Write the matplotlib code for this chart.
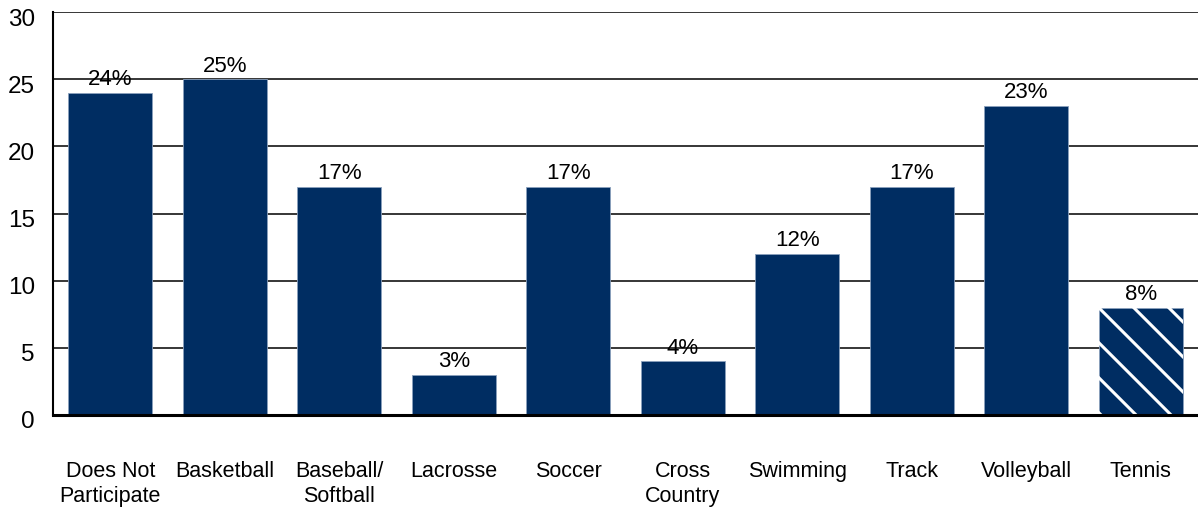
import numpy as np
import matplotlib.pyplot as plt
import matplotlib.transforms as mtransforms
from matplotlib.lines import Line2D

plt.rcParams['font.family'] = ['Liberation Sans', 'DejaVu Sans']

# data
sports = ['Does Not\nParticipate', 'Basketball', 'Baseball/\nSoftball', 'Lacrosse', 'Soccer',
          'Cross\nCountry', 'Swimming', 'Track', 'Volleyball', 'Tennis']
percents = [24, 25, 17, 3, 17, 4, 12, 17, 23, 8]
hatched = ['Tennis']

navy = '#002d62'

fig = plt.figure(figsize=(11.98, 5.07), dpi=100)
ax = fig.add_axes([0.0442, 0.1815, 0.9558, 0.7945])

x = np.arange(len(sports))
bars = ax.bar(x, percents, width=0.735, color=navy, edgecolor='#8aa0bd', linewidth=0.6, zorder=3)

# value labels
for xi, v in zip(x, percents):
    ax.text(xi, v + 0.2, '{0}%'.format(v), ha='center', va='bottom', fontsize=16, zorder=4)

ax.set_xlim(-0.5, len(sports) - 0.5)
ax.set_ylim(0, 30)
ax.set_yticks(range(0, 31, 5))
ax.set_xticks(x)
ax.set_xticklabels(sports, fontsize=15.5, linespacing=1.25, va='top')
ax.tick_params(axis='x', length=0, pad=33)
ax.tick_params(axis='y', length=0, pad=13, labelsize=17.5)

# shift y labels slightly down like the original
offset = mtransforms.ScaledTranslation(0, -5 / 100, fig.dpi_scale_trans)
for lab in ax.get_yticklabels():
    lab.set_transform(lab.get_transform() + offset)

ax.yaxis.grid(True, color='black', linewidth=1.1, zorder=1)
ax.set_axisbelow(True)
for side in ['top', 'right']:
    ax.spines[side].set_visible(False)
ax.spines['left'].set_linewidth(1.5)
ax.spines['bottom'].set_linewidth(2.2)
ax.spines['bottom'].set_zorder(5)

# sparse white diagonal hatch for the hatched bars (drawn in pixel space, clipped to the bar)
for bar, name in zip(bars, sports):
    if name not in hatched:
        continue
    (x0, y0), (x1, y1) = ax.transData.transform([(bar.get_x(), 0), (bar.get_x() + bar.get_width(), bar.get_height())])
    step = 35
    h = y1 - y0
    for k in range(-int(h // step) - 1, int((x1 - x0) // step) + 2):
        start = x0 + k * step
        ln = Line2D([start, start + h + step], [y1, y0 - step], transform=None,
                    color='white', linewidth=2.2, zorder=4)
        ax.add_artist(ln)
        ln.set_clip_path(bar)

fig.savefig('out.png', dpi=100)
